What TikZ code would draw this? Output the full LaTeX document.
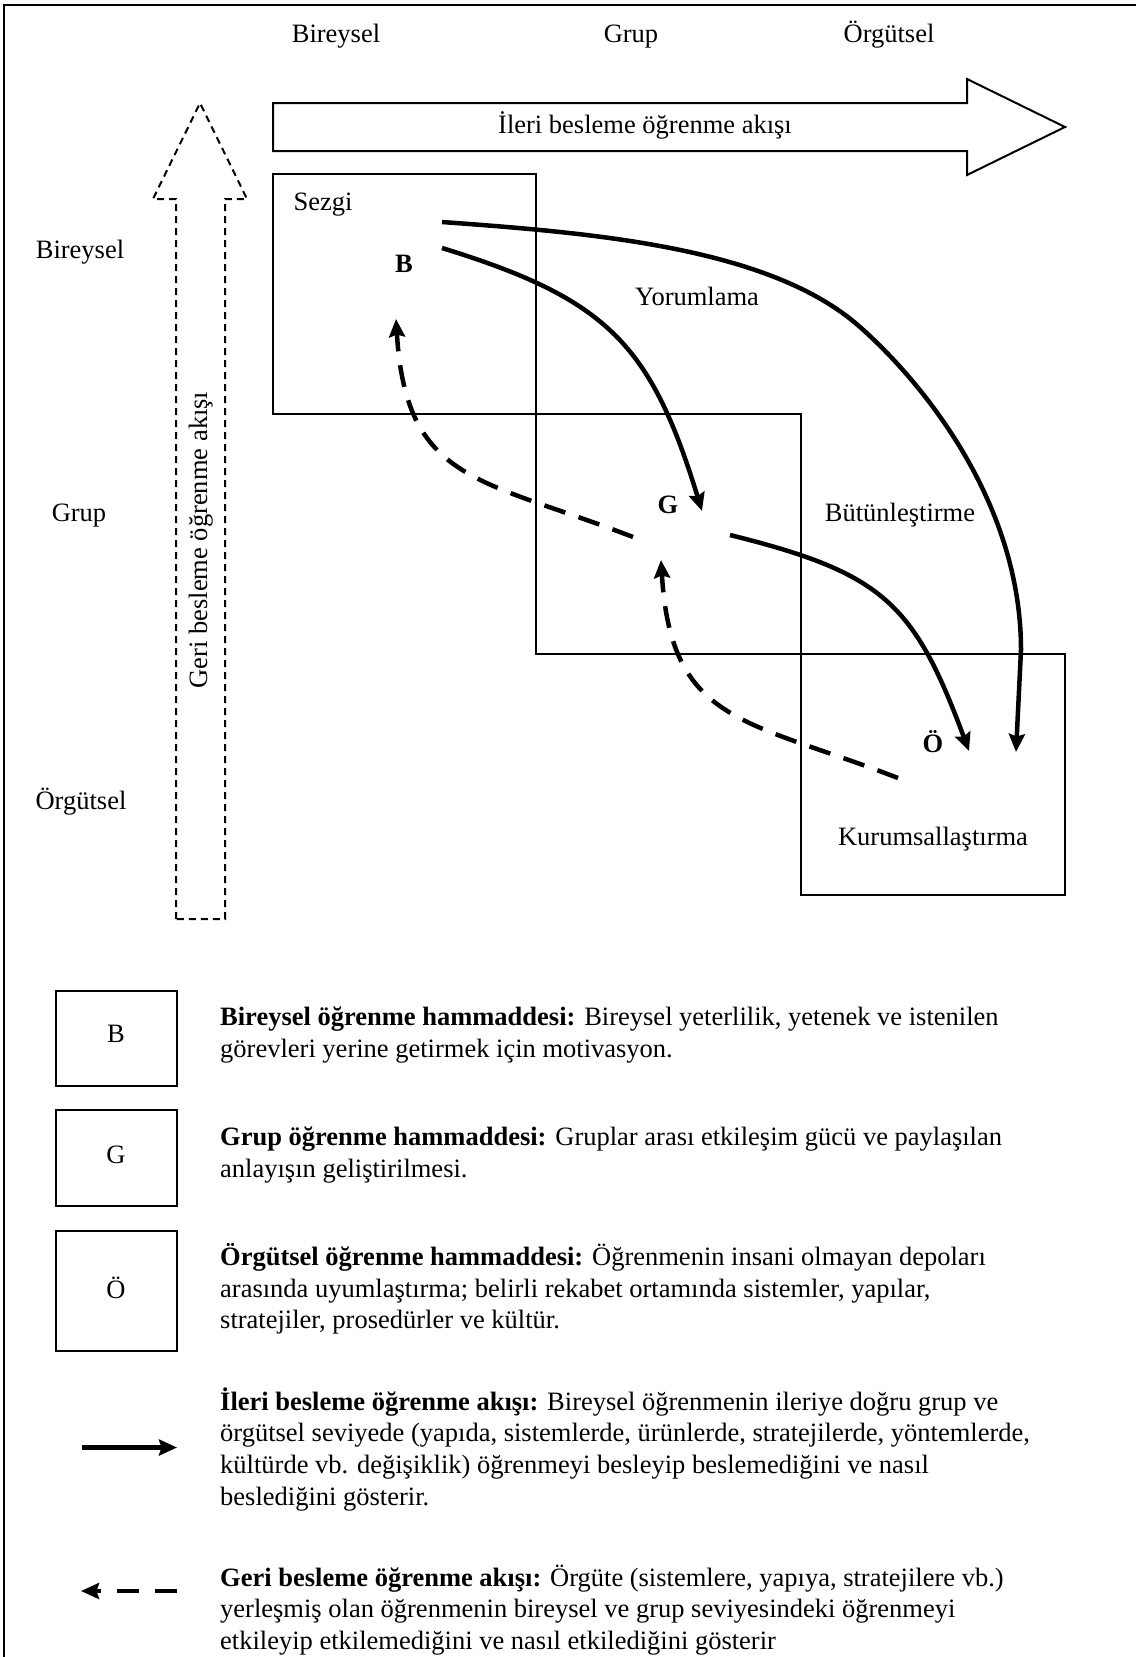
\documentclass[tikz,border=0pt]{standalone}
\usepackage{fontspec}
\setmainfont{Liberation Serif}
\usetikzlibrary{arrows.meta}
\begin{document}
\begin{tikzpicture}[x=1pt,y=-1pt,
  txt/.style={inner sep=0pt, font=\fontsize{26.5}{31.7}\selectfont},
  lbl/.style={txt, anchor=base},
  lvlmark/.style={txt, anchor=base, font=\fontsize{26.5}{31.7}\selectfont\bfseries},
  keyline/.style={txt, anchor=base west},
  thin/.style={line width=2pt, line join=miter},
  hollowdash/.style={line width=2pt, dash pattern=on 7pt off 5pt},
  flow/.style={line width=4.5pt, -{Stealth[length=18pt,width=16pt,inset=2.5pt]}},
  back/.style={flow, dash pattern=on 22pt off 14pt},
]
\useasboundingbox (0,0) rectangle (1136,1657);

% page frame (top and left edges)
\draw[thin] (4,1657) -- (4,5) -- (1136,5);

% column headings
\node[lbl] (colB) at (336,42) {Bireysel};
\node[lbl] (colG) at (631,42) {Grup};
\node[lbl] (colO) at (889,42) {Örgütsel};

% row headings
\node[lbl] (rowB) at (80,258) {Bireysel};
\node[lbl] (rowG) at (79,521) {Grup};
\node[lbl] (rowO) at (81,809) {Örgütsel};

% feed-forward block arrow
\draw[thin] (273,103) -- (967,103) -- (967,79) -- (1065,127) -- (967,175)
  -- (967,151) -- (273,151) -- cycle;
\node[lbl] (ffwd) at (645,133) {İleri besleme öğrenme akışı};

% feedback block arrow (dashed outline)
\draw[hollowdash] (176,919) -- (176,199) -- (153,199) -- (200,103) -- (247,199)
  -- (225,199) -- (225,919) -- cycle;
\node[lbl, rotate=90] (fback) at (207,540) {Geri besleme öğrenme akışı};

% the three learning stages
\draw[thin] (273,174) rectangle (536,414);
\draw[thin] (536,414) rectangle (801,654);
\draw[thin] (801,654) rectangle (1065,895);
\node[lbl] (sezgi) at (323,210) {Sezgi};
\node[lbl] (yorum) at (697,305) {Yorumlama};
\node[lbl] (butun) at (900,521) {Bütünleştirme};
\node[lbl] (kurum) at (933,845) {Kurumsallaştırma};

% level markers
\node[lvlmark] (mB) at (404,272) {B};
\node[lvlmark] (mG) at (668,513) {G};
\node[lvlmark] (mO) at (933,752) {Ö};

% flow end points
\coordinate (aS) at (442,222);
\coordinate (aM) at (860,327);
\coordinate (aL) at (1021,650);
\coordinate (aE) at (1016,752);
\coordinate (bS) at (442,248);
\coordinate (bE) at (702,511);
\coordinate (cS) at (730,535);
\coordinate (cE) at (969,751);
\coordinate (dS) at (633,537);
\coordinate (dE) at (396,319);
\coordinate (eS) at (898,778);
\coordinate (eE) at (661,560);

% feed-forward flows
\draw[flow] (aS) .. controls (592,233) and (770,247) .. (aM)
  .. controls (920,380) and (1021,500) .. (aL) -- (aE);
\draw[flow] (bS) .. controls (608,299) and (651,345) .. (bE);
\draw[flow] (cS) .. controls (883,573) and (914,603) .. (cE);

% feedback flows
\draw[back] (dS) .. controls (480,478) and (406,483) .. (dE);
\draw[back] (eS) .. controls (745,719) and (671,724) .. (eE);

% legend
\draw[thin] (56,991) rectangle (177,1086);
\draw[thin] (56,1110) rectangle (177,1206);
\draw[thin] (56,1231) rectangle (177,1351);
\node[lbl] (kB) at (116,1042) {B};
\node[lbl] (kG) at (116,1163) {G};
\node[lbl] (kO) at (116,1298) {Ö};

\node[keyline] (t1a) at (220,1025.5) {\textbf{Bireysel öğrenme hammaddesi:} Bireysel yeterlilik, yetenek ve istenilen};
\node[keyline] (t1b) at (220,1057.2) {görevleri yerine getirmek için motivasyon.};

\node[keyline] (t2a) at (220,1145.5) {\textbf{Grup öğrenme hammaddesi:} Gruplar arası etkileşim gücü ve paylaşılan};
\node[keyline] (t2b) at (220,1177.2) {anlayışın geliştirilmesi.};

\node[keyline] (t3a) at (220,1265.5) {\textbf{Örgütsel öğrenme hammaddesi:} Öğrenmenin insani olmayan depoları};
\node[keyline] (t3b) at (220,1297.2) {arasında uyumlaştırma; belirli rekabet ortamında sistemler, yapılar,};
\node[keyline] (t3c) at (220,1328.9) {stratejiler, prosedürler ve kültür.};

\node[keyline] (t4a) at (220,1410) {\textbf{İleri besleme öğrenme akışı:} Bireysel öğrenmenin ileriye doğru grup ve};
\node[keyline] (t4b) at (220,1441.7) {örgütsel seviyede (yapıda, sistemlerde, ürünlerde, stratejilerde, yöntemlerde,};
\node[keyline] (t4c) at (220,1473.4) {kültürde vb. değişiklik) öğrenmeyi besleyip beslemediğini ve nasıl};
\node[keyline] (t4d) at (220,1505.1) {beslediğini gösterir.};

\node[keyline] (t5a) at (220,1586) {\textbf{Geri besleme öğrenme akışı:} Örgüte (sistemlere, yapıya, stratejilere vb.)};
\node[keyline] (t5b) at (220,1617.7) {yerleşmiş olan öğrenmenin bireysel ve grup seviyesindeki öğrenmeyi};
\node[keyline] (t5c) at (220,1649.4) {etkileyip etkilemediğini ve nasıl etkilediğini gösterir};

% legend arrow samples
\coordinate (kfS) at (82,1447.5);
\coordinate (kfE) at (177,1447.5);
\coordinate (kbS) at (177,1591);
\coordinate (kbE) at (81,1591);
\draw[flow] (kfS) -- (kfE);
\draw[back, dash pattern=on 22pt off 16pt] (kbS) -- (kbE);
\end{tikzpicture}
\end{document}
